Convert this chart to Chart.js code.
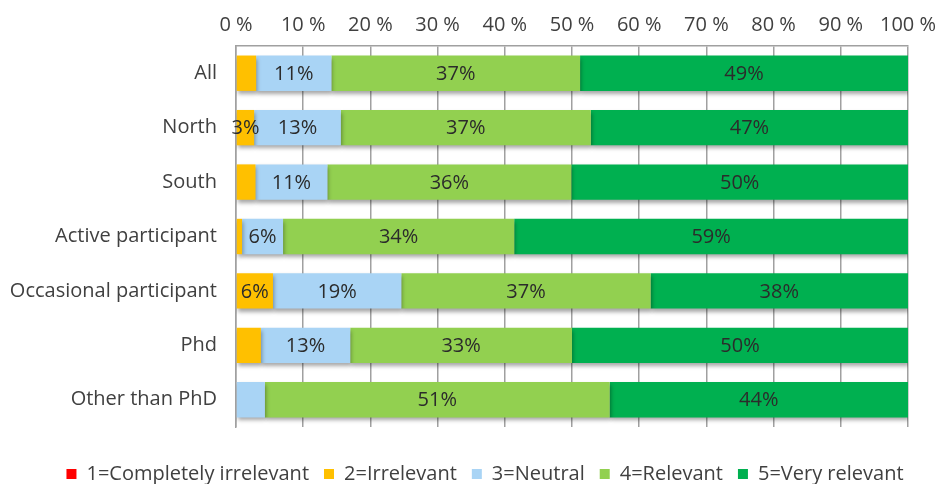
<!DOCTYPE html>
<html>
<head>
<meta charset="utf-8">
<script src="https://cdn.jsdelivr.net/npm/chart.js@4"></script>
<style>
  body { margin: 0; background: #fff; }
  #wrap { width: 940px; height: 484px; }
</style>
</head>
<body>
<div id="wrap"><canvas id="barCanvas"></canvas></div>
<script>
// categories, top to bottom
var groups = ["All", "North", "South", "Active participant", "Occasional participant", "Phd", "Other than PhD"];

// share of answers (%) per group
var completelyIrrelevant = [0, 0, 0, 0, 0, 0, 0];
var irrelevant = [3.0, 2.7, 2.9, 0.9, 5.5, 3.7, 0];
var neutral = [11.2, 12.9, 10.7, 6.1, 19.1, 13.3, 4.3];
var relevant = [37.0, 37.2, 36.3, 34.4, 37.1, 33.0, 51.3];
var veryRelevant = [48.8, 47.2, 50.1, 58.6, 38.3, 50.0, 44.4];

// which segments carry a value label in the original
var irrelevantShown = [false, true, false, false, true, false, false];
var neutralShown = [true, true, true, true, true, true, false];
var relevantShown = [true, true, true, true, true, true, true];
var veryRelevantShown = [true, true, true, true, true, true, true];
var noneShown = [false, false, false, false, false, false, false];

var axisTicks = [0, 10, 20, 30, 40, 50, 60, 70, 80, 90, 100];

var textColor = "#404040";
var gridColor = "#a0a0a0";
var fontName = "'Open Sans'";

// soft drop shadow under the bars, like the office chart
var barShadow = {
    id: "barShadow",
    beforeInit: function (chart) {
        // pull the legend a bit lower
        var fit = chart.legend.fit;
        chart.legend.fit = function () {
            fit.call(this);
            this.height -= 10;
        };
    },
    afterLayout: function (chart) {
        // legend sits a little right of centre in the original
        chart.legend.left += 30;
    },
    beforeDatasetsDraw: function (chart) {
        var ctx = chart.ctx;
        ctx.save();
        ctx.shadowColor = "rgba(0,0,0,0.35)";
        ctx.shadowBlur = 4;
        ctx.shadowOffsetX = 1;
        ctx.shadowOffsetY = 3;
    },
    afterDatasetsDraw: function (chart) {
        chart.ctx.restore();
    }
};

// the "11%" style numbers in the bars
var valueLabels = {
    id: "valueLabels",
    afterDatasetsDraw: function (chart) {
        var ctx = chart.ctx;
        ctx.save();
        ctx.font = "20px " + fontName;
        ctx.fillStyle = "#2b2b2b";
        ctx.textAlign = "center";
        ctx.textBaseline = "middle";
        chart.data.datasets.forEach(function (ds, i) {
            var meta = chart.getDatasetMeta(i);
            meta.data.forEach(function (bar, j) {
                if (!ds.shown[j]) return;
                var x = (bar.x + bar.base) / 2;
                ctx.fillText(Math.round(ds.data[j]) + "%", x, bar.y + 1);
            });
        });
        ctx.restore();
    }
};

var chart = new Chart("barCanvas", {
    type: "bar",
    data: {
        labels: groups,
        datasets: [
            { label: "1=Completely irrelevant", data: completelyIrrelevant, shown: noneShown, backgroundColor: "#ff0000" },
            { label: "2=Irrelevant", data: irrelevant, shown: irrelevantShown, backgroundColor: "#ffc000" },
            { label: "3=Neutral", data: neutral, shown: neutralShown, backgroundColor: "#a9d4f5" },
            { label: "4=Relevant", data: relevant, shown: relevantShown, backgroundColor: "#92d050" },
            { label: "5=Very relevant", data: veryRelevant, shown: veryRelevantShown, backgroundColor: "#00b050" }
        ]
    },
    options: {
        indexAxis: "y",
        responsive: true,
        maintainAspectRatio: false,
        animation: false,
        layout: { padding: 0 },
        datasets: {
            bar: { categoryPercentage: 1, barPercentage: 0.65, borderWidth: 0 }
        },
        scales: {
            x: {
                position: "top",
                stacked: true,
                min: 0,
                max: 100,
                afterBuildTicks: function (scale) {
                    scale.ticks = axisTicks.map(function (v) { return { value: v }; });
                },
                afterFit: function (scale) {
                    scale.height = 46;
                    scale.paddingRight = 32;
                },
                ticks: {
                    callback: function (v) { return v + " %"; },
                    color: textColor,
                    font: { family: fontName, size: 20 },
                    padding: 9,
                    maxRotation: 0
                },
                grid: { color: gridColor, lineWidth: 1.5, drawTicks: false },
                border: { color: gridColor, width: 1.5 }
            },
            gap: {
                axis: "x",
                position: "bottom",
                display: true,
                afterFit: function (scale) { scale.height = 22; },
                ticks: { display: false },
                grid: { display: false },
                border: { display: false }
            },
            y: {
                stacked: true,
                afterFit: function (scale) { scale.width = 236; },
                ticks: {
                    color: textColor,
                    font: { family: fontName, size: 20 },
                    padding: 11
                },
                grid: { display: false },
                border: { color: gridColor, width: 1.5 }
            }
        },
        plugins: {
            legend: {
                position: "bottom",
                labels: {
                    boxWidth: 10,
                    boxHeight: 10,
                    color: textColor,
                    font: { family: fontName, size: 20 },
                    padding: 15
                }
            },
            tooltip: { enabled: false }
        }
    },
    plugins: [barShadow, valueLabels]
});
</script>
</body>
</html>
